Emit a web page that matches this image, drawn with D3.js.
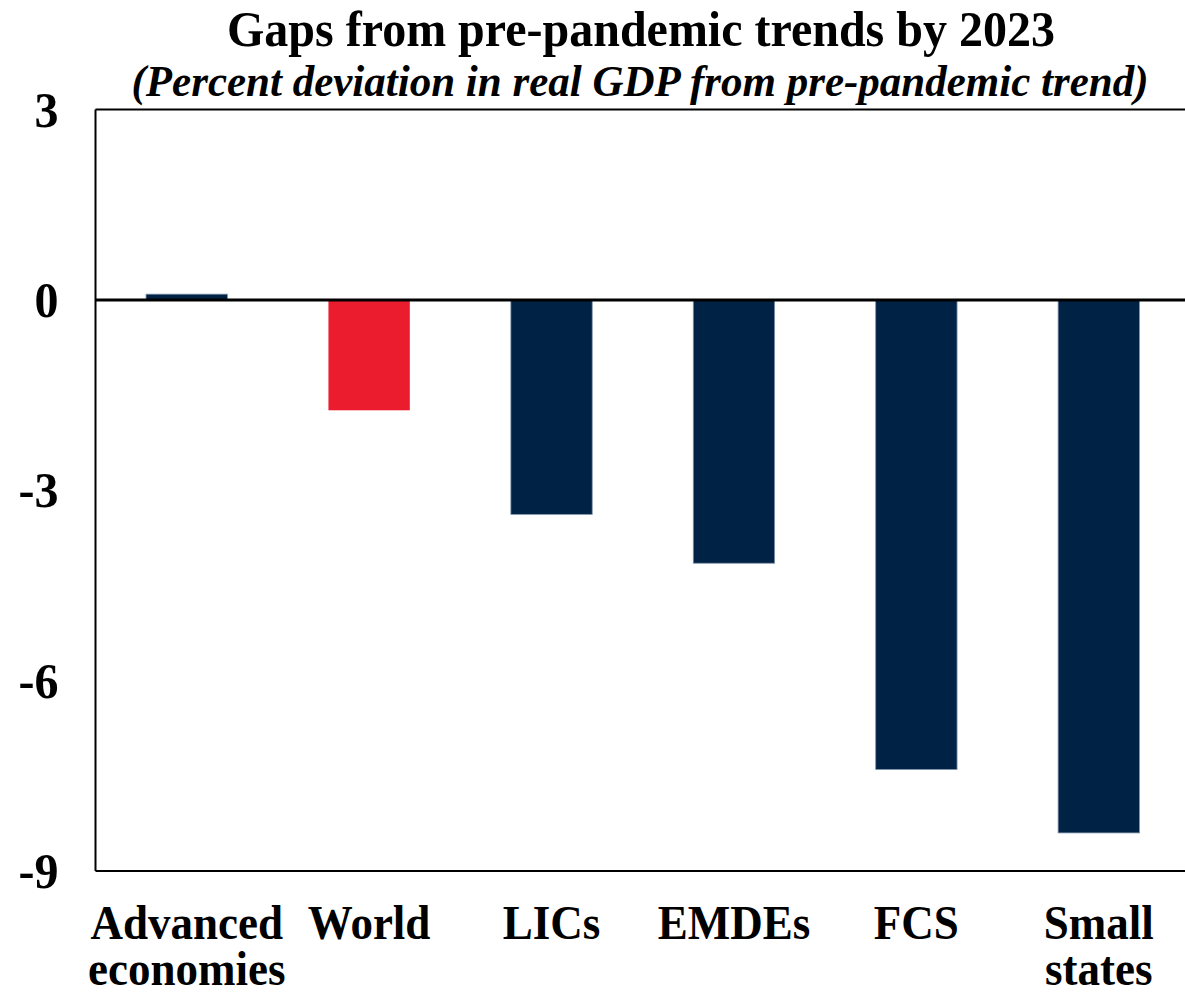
<!DOCTYPE html>
<html>
<head>
<meta charset="utf-8">
<script src="https://cdn.jsdelivr.net/npm/d3@7"></script>
<style>
  html, body { margin: 0; padding: 0; background: #ffffff; overflow: hidden; }
  svg { display: block; }
  text { font-family: "Liberation Serif", "Times New Roman", serif; font-weight: bold; fill: #000; }
</style>
</head>
<body>
<svg id="chart" width="1185" height="995"></svg>
<script>
// Gaps from pre-pandemic trends by 2023, percent deviation of real GDP
const categories = [["Advanced", "economies"], ["World"], ["LICs"], ["EMDEs"], ["FCS"], ["Small", "states"]];
const categoryKeys = ["Advanced economies", "World", "LICs", "EMDEs", "FCS", "Small states"];
const gaps = [0.09, -1.74, -3.38, -4.15, -7.40, -8.40];
const highlight = ["World"];
const yTicks = [3, 0, -3, -6, -9];

const W = 1185, H = 995;
const margin = { left: 95.5, top: 109.5, right: -5, bottom: 124 };
const plotW = W - margin.left - margin.right;
const plotH = H - margin.top - margin.bottom;

const svg = d3.select("#chart");

const x = d3.scaleBand()
  .domain(categoryKeys)
  .range([margin.left, margin.left + plotW])
  .paddingInner(0.554)
  .paddingOuter(0.277);

const y = d3.scaleLinear()
  .domain([-9, 3])
  .range([margin.top + plotH, margin.top]);

// Text drawn with a slight vertical stretch, anchored on its baseline
function stretchedText(parent, px, py, size, sy) {
  return parent.append("text")
    .attr("transform", `translate(${px},${py}) scale(1,${sy})`)
    .style("font-size", size + "px");
}

// Title and subtitle
stretchedText(svg, 641, 46, 48, 1.06)
  .attr("text-anchor", "middle")
  .text("Gaps from pre-pandemic trends by 2023");

stretchedText(svg, 640, 96, 43, 1.04)
  .attr("text-anchor", "middle")
  .style("font-style", "italic")
  .text("(Percent deviation in real GDP from pre-pandemic trend)");

// Bars
const data = categoryKeys.map((k, i) => ({ key: k, value: gaps[i] }));
svg.append("g")
  .selectAll("rect")
  .data(data)
  .join("rect")
  .attr("x", d => x(d.key))
  .attr("width", x.bandwidth())
  .attr("y", d => y(Math.max(0, d.value)))
  .attr("height", d => Math.abs(y(d.value) - y(0)))
  .attr("fill", d => highlight.includes(d.key) ? "#EB1C2D" : "#002345")
  .attr("stroke", d => highlight.includes(d.key) ? "none" : "#7f93ab")
  .attr("stroke-width", 0.8);

// Plot frame (left, top, bottom)
const frame = svg.append("g").attr("fill", "none").attr("stroke", "#000").attr("stroke-width", 2);
frame.append("line")
  .attr("x1", margin.left).attr("x2", margin.left)
  .attr("y1", y(3)).attr("y2", y(-9));
frame.append("line")
  .attr("x1", margin.left).attr("x2", W)
  .attr("y1", y(3)).attr("y2", y(3));
frame.append("line")
  .attr("x1", margin.left).attr("x2", W)
  .attr("y1", y(-9)).attr("y2", y(-9));

// Zero line
svg.append("line")
  .attr("x1", margin.left).attr("x2", W)
  .attr("y1", y(0)).attr("y2", y(0))
  .attr("stroke", "#000").attr("stroke-width", 3);

// Y tick labels
const gy = svg.append("g");
yTicks.forEach(v => {
  stretchedText(gy, margin.left - 37, y(v) + 17, 48, 1.06)
    .attr("text-anchor", "end")
    .text(v < 0 ? "-" + Math.abs(v) : String(v));
});

// X category labels, one text per category with a tspan per line
const sx = 1.08;
const gx = svg.append("g");
categoryKeys.forEach((k, i) => {
  const cx = x(k) + x.bandwidth() / 2;
  const t = stretchedText(gx, cx, 939, 45, sx).attr("text-anchor", "middle");
  categories[i].forEach((line, j) => {
    t.append("tspan")
      .attr("x", 0)
      .attr("dy", j === 0 ? 0 : 46 / sx)
      .text(line);
  });
});
</script>
</body>
</html>
